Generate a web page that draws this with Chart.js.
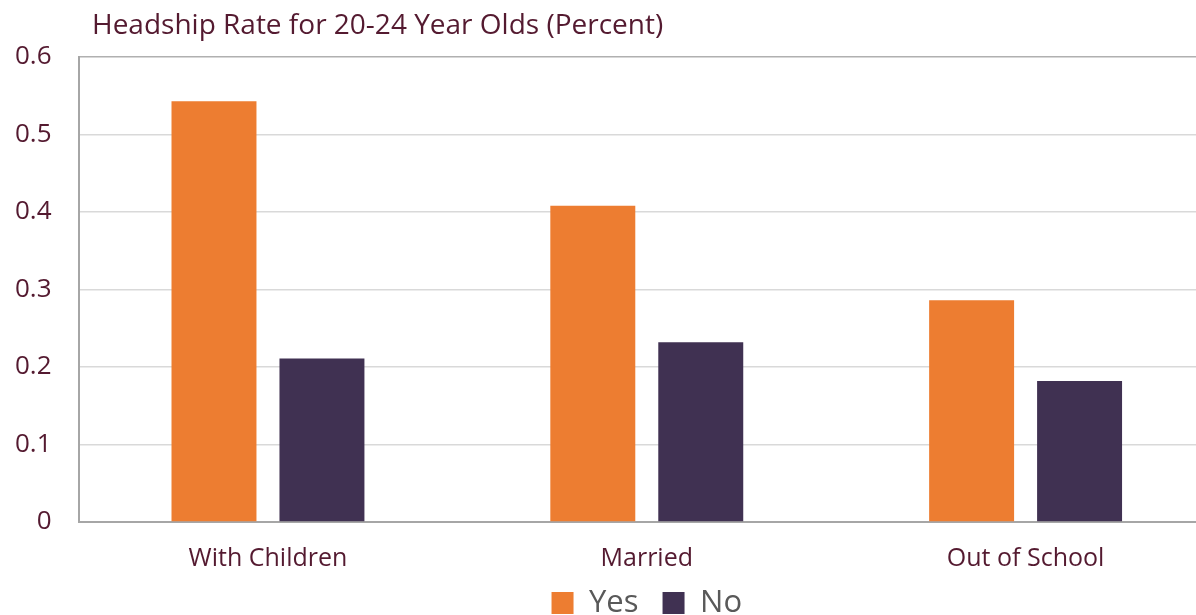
<!DOCTYPE html>
<html>
<head>
<meta charset="utf-8">
<script src="https://cdn.jsdelivr.net/npm/chart.js@4/dist/chart.umd.min.js"></script>
<style>
  html, body { margin: 0; padding: 0; background: #ffffff; overflow: hidden; }
  #wrap { width: 1196px; height: 615px; overflow: hidden; position: relative; }
  canvas { display: block; }
</style>
</head>
<body>
<div id="wrap"><canvas id="chart" width="1240" height="661"></canvas></div>
<script>
// Headship rate of 20-24 year olds by household characteristic
const chartTitle = 'Headship Rate for 20-24 Year Olds (Percent)';
const categories = ['With Children', 'Married', 'Out of School'];
const seriesNames = ['Yes', 'No'];
const yesValues = [0.543, 0.408, 0.286];
const noValues = [0.211, 0.232, 0.182];
const yTickLabels = ['0', '0.1', '0.2', '0.3', '0.4', '0.5', '0.6'];

const textColor = '#541a30';
const legendFontSize = 31;
const legendPadding = 24;

// Title text drawn above the plot area
const titlePlugin = {
  id: 'topTitle',
  afterDraw(chart) {
    const ctx = chart.ctx;
    ctx.save();
    ctx.font = '28px "Open Sans"';
    ctx.fillStyle = textColor;
    ctx.textAlign = 'left';
    ctx.textBaseline = 'alphabetic';
    ctx.fillText(chartTitle, 92, 34);
    ctx.restore();
  }
};

// Pull the legend row up so it sits just under the category labels
const legendGapPlugin = {
  id: 'legendGap',
  afterLayout(chart) {
    const lg = chart.legend;
    if (!lg) return;
    const rowCenter = lg.top + legendPadding + legendFontSize / 2;
    const target = chart.chartArea.bottom + 81;
    const dy = rowCenter - target;
    lg.top -= dy;
    lg.bottom -= dy;
  }
};

new Chart(document.getElementById('chart'), {
  type: 'bar',
  data: {
    labels: categories,
    datasets: [
      { label: seriesNames[0], data: yesValues, backgroundColor: '#ED7D31',
        barPercentage: 0.787, categoryPercentage: 0.57 },
      { label: seriesNames[1], data: noValues, backgroundColor: '#403152',
        barPercentage: 0.787, categoryPercentage: 0.57 }
    ]
  },
  options: {
    responsive: false,
    animation: false,
    layout: { padding: { top: 57, left: -12, right: 25, bottom: 0 } },
    plugins: {
      title: { display: false },
      tooltip: { enabled: false },
      legend: {
        position: 'bottom',
        fullSize: false,
        labels: {
          boxWidth: 22,
          boxHeight: 22,
          padding: legendPadding,
          color: '#595959',
          font: { family: 'Open Sans', size: legendFontSize }
        }
      }
    },
    scales: {
      x: {
        grid: { display: false, drawTicks: false },
        border: { display: true, color: '#a6a6a6', width: 2 },
        ticks: {
          color: textColor,
          padding: 22,
          font: { family: 'Open Sans', size: 25 }
        }
      },
      y: {
        min: 0,
        max: 0.6,
        ticks: {
          stepSize: 0.1,
          color: textColor,
          padding: 27,
          font: { family: 'Open Sans', size: 26 },
          callback: (v, i) => yTickLabels[i]
        },
        grid: {
          drawTicks: false,
          lineWidth: 1.5,
          color: (c) => (c.tick && Math.abs(c.tick.value - 0.6) < 1e-9) ? '#b0b0b0' : '#d9d9d9'
        },
        border: { display: true, color: '#a6a6a6', width: 2 }
      }
    }
  },
  plugins: [titlePlugin, legendGapPlugin]
});
</script>
</body>
</html>
